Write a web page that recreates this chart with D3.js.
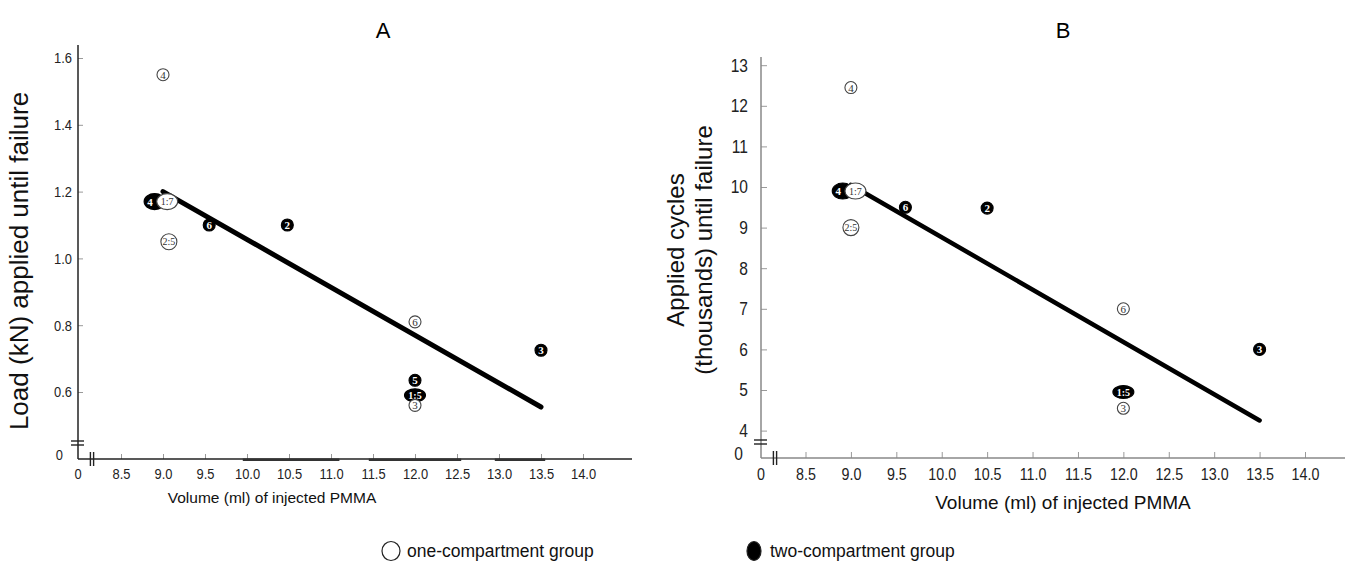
<!DOCTYPE html>
<html>
<head>
<meta charset="utf-8">
<script src="https://cdn.jsdelivr.net/npm/d3@7"></script>
<style>
  html, body { margin: 0; padding: 0; background: #fff; }
  svg { display: block; }
  .tickfont { font-family: "Liberation Sans", Arial, Helvetica, sans-serif; }
  .sans { font-family: "Liberation Sans", Arial, Helvetica, sans-serif; }
  .num { font-family: "Liberation Serif", "Times New Roman", serif; }
</style>
</head>
<body>
<svg id="chart" width="1354" height="570"></svg>
<script>
// ---- Panel A: ultimate load vs injected cement volume ----
const loadVolume = [9.0, 8.9, 9.05, 9.07, 9.55, 10.48, 12.0, 13.5, 12.0, 12.0, 12.0];
const loadKN     = [1.55, 1.17, 1.17, 1.05, 1.10, 1.10, 0.81, 0.725, 0.635, 0.59, 0.56];
const loadLabel  = ["4", "4", "1:7", "2:5", "6", "2", "6", "3", "5", "1:5", "3"];
const loadGroup  = ["one", "two", "one", "one", "two", "two", "one", "two", "two", "two", "one"];
const loadFitVolume = [9.0, 13.5];
const loadFitKN     = [1.20, 0.555];
const loadTicksY = [0.6, 0.8, 1.0, 1.2, 1.4, 1.6];

// ---- Panel B: cycles to failure vs injected cement volume ----
const cycVolume = [9.0, 8.91, 9.05, 9.0, 9.6, 10.5, 12.0, 13.5, 12.0, 12.0];
const cycCount  = [12.45, 9.9, 9.9, 9.0, 9.5, 9.48, 7.0, 6.0, 4.95, 4.55];
const cycLabel  = ["4", "4", "1:7", "2:5", "6", "2", "6", "3", "1:5", "3"];
const cycGroup  = ["one", "two", "one", "one", "two", "two", "one", "two", "two", "one"];
const cycFitVolume = [9.0, 13.5];
const cycFitCount  = [10.05, 4.25];
const cycTicksY = [4, 5, 6, 7, 8, 9, 10, 11, 12, 13];

// shared x ticks
const volumeTicks = [8.5, 9.0, 9.5, 10.0, 10.5, 11.0, 11.5, 12.0, 12.5, 13.0, 13.5, 14.0];

const svg = d3.select("#chart");

// squeeze tick labels horizontally to get a condensed face
function condense(sel, k) {
  sel.each(function () {
    const len = this.getComputedTextLength();
    d3.select(this).attr("textLength", len * k).attr("lengthAdjust", "spacingAndGlyphs");
  });
}

function markerRx(d) {
  if (d.label === "1:7" || d.label === "1:5") return 10.5;
  if (d.label === "4" && d.group === "two") return 10.5;
  if (d.label === "2:5") return 8;
  return 6;
}
function markerRy(d) {
  if (d.label === "1:5") return 6.5;
  if (d.label === "2:5") return 8;
  if (d.label === "1:7" || (d.label === "4" && d.group === "two")) return 8;
  return 6;
}

function drawPanel(cfg) {
  const g = svg.append("g");
  const x = d3.scaleLinear().domain([8.5, 14.0]).range(cfg.xRange);
  const y = d3.scaleLinear().domain(cfg.yDomain).range(cfg.yRange);

  // y axis ticks + labels (ticks point inward)
  const ya = g.append("g")
    .attr("transform", `translate(${cfg.ox},0)`)
    .call(d3.axisLeft(y).tickValues(cfg.yTicks).tickFormat(cfg.yFormat)
      .tickSize(-cfg.tick).tickPadding(cfg.yPad));
  ya.select(".domain").remove();
  ya.selectAll(".tick line").attr("stroke", "#999").attr("stroke-width", 1);
  ya.selectAll(".tick text").attr("class", "tickfont").attr("font-size", cfg.yTickFont).attr("fill", "#222")
    .call(condense, cfg.squeeze);

  // x axis ticks + labels (ticks point upward)
  const xa = g.append("g")
    .attr("transform", `translate(0,${cfg.oy})`)
    .call(d3.axisBottom(x).tickValues(volumeTicks).tickFormat(d3.format(".1f"))
      .tickSize(-cfg.tick).tickPadding(cfg.xPad));
  xa.select(".domain").remove();
  xa.selectAll(".tick line").attr("stroke", "#999").attr("stroke-width", 1);
  xa.selectAll(".tick text").attr("class", "tickfont").attr("font-size", cfg.xTickFont).attr("fill", "#222")
    .call(condense, cfg.squeeze);

  // axis lines
  g.append("line").attr("x1", cfg.ox).attr("x2", cfg.ox).attr("y1", cfg.yTop).attr("y2", cfg.oy)
    .attr("stroke", cfg.axisColor).attr("stroke-width", 1.5);
  g.append("line").attr("x1", cfg.ox).attr("x2", cfg.xEnd).attr("y1", cfg.oy).attr("y2", cfg.oy)
    .attr("stroke", cfg.axisColor).attr("stroke-width", 1.5);
  // heavier stretches along the volume axis
  (cfg.heavy || []).forEach(s => {
    g.append("line").attr("x1", x(s[0])).attr("x2", x(s[1])).attr("y1", cfg.oy + 0.8).attr("y2", cfg.oy + 0.8)
      .attr("stroke", "#333").attr("stroke-width", 2.6);
  });

  // axis break marks
  const bY = cfg.oy - 16;
  [-2, 2].forEach(d => {
    g.append("line").attr("x1", cfg.ox - 7).attr("x2", cfg.ox + 6)
      .attr("y1", bY + d).attr("y2", bY + d).attr("stroke", "#222").attr("stroke-width", 1.4);
  });
  const bX = cfg.ox + cfg.xBreak;
  [-1.6, 1.6].forEach(d => {
    g.append("line").attr("x1", bX + d).attr("x2", bX + d)
      .attr("y1", cfg.oy - 7).attr("y2", cfg.oy + 7).attr("stroke", "#222").attr("stroke-width", 1.4);
  });

  // zero labels at the broken origin
  g.append("text").attr("class", "tickfont").attr("font-size", cfg.yTickFont).attr("fill", "#222")
    .attr("x", cfg.ox - cfg.yPad - cfg.zeroShift).attr("y", cfg.oy - 3).attr("text-anchor", "end")
    .attr("dominant-baseline", "middle").text("0").call(condense, cfg.squeeze);
  g.append("text").attr("class", "tickfont").attr("font-size", cfg.xTickFont).attr("fill", "#222")
    .attr("x", cfg.ox).attr("y", cfg.oy + cfg.xPad).attr("dy", "0.71em")
    .attr("text-anchor", "middle").text("0").call(condense, cfg.squeeze);

  // regression line
  const fit = d3.line().x(d => x(d[0])).y(d => y(d[1]));
  g.append("path").datum(d3.zip(cfg.fitX, cfg.fitY)).attr("d", fit)
    .attr("stroke", "#000").attr("stroke-width", cfg.fitWidth).attr("fill", "none")
    .attr("stroke-linecap", "round");

  // specimens: two-compartment drawn first so open markers sit on top
  const pts = cfg.vx.map((v, i) => ({ x: v, y: cfg.vy[i], label: cfg.labels[i], group: cfg.groups[i] }));
  const order = pts.slice().sort((a, b) => (a.group === "two" ? 0 : 1) - (b.group === "two" ? 0 : 1));
  const mk = g.append("g").selectAll("g").data(order).join("g")
    .attr("transform", d => `translate(${x(d.x)},${y(d.y)})`);
  mk.append("ellipse")
    .attr("rx", markerRx).attr("ry", markerRy)
    .attr("fill", d => d.group === "two" ? "#000" : "#fff")
    .attr("stroke", d => d.group === "two" ? "#000" : "#444")
    .attr("stroke-width", 1.1);
  mk.append("text").attr("class", "num")
    .attr("font-size", d => d.label.length > 1 ? 10 : 11)
    .attr("text-anchor", "middle").attr("dominant-baseline", "central")
    .attr("dx", d => d.label === "4" && d.group === "two" ? -4.5 : 0)
    .attr("fill", d => d.group === "two" ? "#fff" : "#333")
    .attr("font-weight", d => d.group === "two" ? "bold" : "normal")
    .text(d => d.label);

  // panel title
  g.append("text").attr("class", "sans").attr("font-size", 22).attr("x", cfg.titleX).attr("y", 38)
    .attr("text-anchor", "middle").text(cfg.title);

  // x title
  g.append("text").attr("class", "sans").attr("font-size", cfg.xTitleFont).attr("x", cfg.xTitleX).attr("y", cfg.xTitleY)
    .attr("text-anchor", "middle").attr("fill", "#111").text("Volume (ml) of injected PMMA");

  // y title (one or more lines)
  cfg.yTitle.forEach((t, i) => {
    g.append("text").attr("class", "sans").attr("font-size", cfg.yTitleFont).attr("fill", "#111")
      .attr("transform", `translate(${cfg.yTitleX[i]},${cfg.yTitleY}) rotate(-90)`)
      .attr("text-anchor", "middle").text(t);
  });
}

drawPanel({
  title: "A", titleX: 383,
  xRange: [121, 583], yDomain: [0.6, 1.6], yRange: [392, 58],
  ox: 78, oy: 459, yTop: 45, xEnd: 632, xBreak: 14, tick: 5,
  yTicks: loadTicksY, yFormat: d3.format(".1f"), yPad: 6, xPad: 9, zeroShift: 9,
  yTickFont: 15, xTickFont: 15, squeeze: 0.86, axisColor: "#222",
  heavy: [[9.95, 11.1], [11.45, 12.55], [12.95, 13.55]],
  vx: loadVolume, vy: loadKN, labels: loadLabel, groups: loadGroup,
  fitX: loadFitVolume, fitY: loadFitKN, fitWidth: 5,
  xTitleX: 272, xTitleY: 503, xTitleFont: 15.5,
  yTitle: ["Load (kN) applied until failure"], yTitleX: [28], yTitleY: 261, yTitleFont: 26
});

drawPanel({
  title: "B", titleX: 1063,
  xRange: [805.5, 1305], yDomain: [4, 13], yRange: [430.6, 65.2],
  ox: 761, oy: 458, yTop: 57, xEnd: 1345, xBreak: 14, tick: 6,
  yTicks: cycTicksY, yFormat: d3.format("d"), yPad: 13, xPad: 10, zeroShift: 5,
  yTickFont: 18.5, xTickFont: 17, squeeze: 0.84, axisColor: "#888",
  vx: cycVolume, vy: cycCount, labels: cycLabel, groups: cycGroup,
  fitX: cycFitVolume, fitY: cycFitCount, fitWidth: 4.5,
  xTitleX: 1063, xTitleY: 509, xTitleFont: 19,
  yTitle: ["Applied cycles", "(thousands) until failure"], yTitleX: [684, 712], yTitleY: 250, yTitleFont: 24
});

// ---- legend ----
const legendGroups = ["one-compartment group", "two-compartment group"];
const legendX = [391, 754];
const lg = svg.append("g").selectAll("g").data(legendGroups).join("g")
  .attr("transform", (d, i) => `translate(${legendX[i]},551)`);
lg.append("ellipse").attr("rx", (d, i) => i ? 7 : 9).attr("ry", 9.5)
  .attr("fill", (d, i) => i ? "#000" : "#fff").attr("stroke", "#222").attr("stroke-width", 1.2);
lg.append("text").attr("class", "sans").attr("font-size", 17.5).attr("x", 16).attr("dy", "0.35em")
  .attr("fill", "#111").text(d => d);
</script>
</body>
</html>
